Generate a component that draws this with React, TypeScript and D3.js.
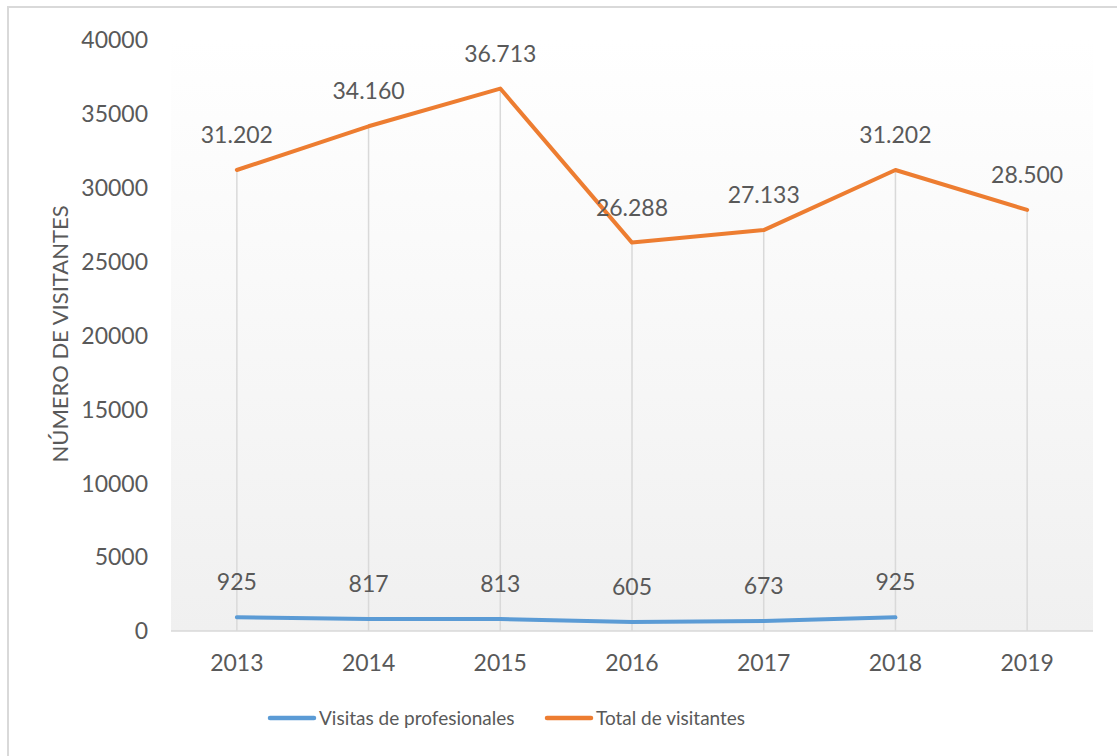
import React from "react";
import * as d3 from "d3";

// años y series
const years = ["2013", "2014", "2015", "2016", "2017", "2018", "2019"];
const totalVisitantes = [31202, 34160, 36713, 26288, 27133, 31202, 28500];
const visitasProfesionales = [925, 817, 813, 605, 673, 925];
const yTicks = [0, 5000, 10000, 15000, 20000, 25000, 30000, 35000, 40000];

const seriesNames = ["Visitas de profesionales", "Total de visitantes"];
const colors = ["#5B9BD5", "#ED7D31"];

const W = 1117;
const H = 756;
const left = 171, right = 1093, top = 40, bottom = 631;
const font = "Lato, 'Open Sans', sans-serif";
const textColor = "#595959";

export default function App() {
  const xScale = d3.scalePoint<string>().domain(years).range([left, right]).padding(0.5);
  const yScale = d3.scaleLinear().domain([0, 40000]).range([bottom, top]);

  const fmt = (v: number) => d3.format(",")(v).replace(/,/g, ".");

  const line = d3
    .line<number>()
    .x((_, i) => xScale(years[i]) as number)
    .y((d) => yScale(d));

  const series = [visitasProfesionales, totalVisitantes];

  return (
    <div style={{ position: "absolute", left: 0, top: 0 }}>
      <svg width={W} height={H} style={{ display: "block" }}>
        <defs>
          <linearGradient id="plotBg" x1="0" y1="0" x2="0" y2="1">
            <stop offset="0" stopColor="#ffffff" />
            <stop offset="1" stopColor="#f0f0f0" />
          </linearGradient>
        </defs>
        <rect x={0} y={0} width={W} height={H} fill="#fff" />
        {/* borde del gráfico */}
        <rect x={8} y={7} width={W + 10} height={H + 10} fill="none" stroke="#d9d9d9" strokeWidth={2} />

        {/* área de trazado */}
        <rect x={left} y={top} width={right - left} height={bottom - top} fill="url(#plotBg)" />

        {/* líneas de proyección */}
        {years.map((y, i) => (
          <line
            key={`drop-${y}`}
            x1={xScale(y)}
            x2={xScale(y)}
            y1={yScale(totalVisitantes[i])}
            y2={bottom}
            stroke="#d9d9d9"
            strokeWidth={1.5}
          />
        ))}

        {/* eje x */}
        <line x1={left} x2={right} y1={bottom} y2={bottom} stroke="#d9d9d9" strokeWidth={1.5} />

        {/* etiquetas eje y */}
        {yTicks.map((t) => (
          <text
            key={`yt-${t}`}
            x={148}
            y={yScale(t)}
            dy="0.36em"
            textAnchor="end"
            fontFamily={font}
            fontSize={23}
            fill={textColor}
          >
            {t}
          </text>
        ))}

        {/* etiquetas eje x */}
        {years.map((y) => (
          <text
            key={`xt-${y}`}
            x={xScale(y)}
            y={671}
            textAnchor="middle"
            fontFamily={font}
            fontSize={23}
            fill={textColor}
          >
            {y}
          </text>
        ))}

        {/* título eje y */}
        <text
          transform={`translate(68, 334) rotate(-90)`}
          textAnchor="middle"
          fontFamily={font}
          fontSize={22}
          fill={textColor}
        >
          NÚMERO DE VISITANTES
        </text>

        {/* líneas */}
        {series.map((s, k) => (
          <path
            key={`line-${k}`}
            d={line(s) as string}
            fill="none"
            stroke={colors[k]}
            strokeWidth={4}
            strokeLinejoin="round"
            strokeLinecap="round"
          />
        ))}

        {/* etiquetas de datos */}
        {series.map((s, k) =>
          s.map((v, i) => (
            <text
              key={`lab-${k}-${i}`}
              x={xScale(years[i])}
              y={yScale(v) - 27}
              textAnchor="middle"
              fontFamily={font}
              fontSize={23}
              fill={textColor}
            >
              {fmt(v)}
            </text>
          ))
        )}

        {/* leyenda */}
        {seriesNames.map((name, k) => {
          const lx = [270, 547][k];
          return (
            <g key={`leg-${k}`}>
              <line
                x1={lx}
                x2={lx + 44}
                y1={718}
                y2={718}
                stroke={colors[k]}
                strokeWidth={4.5}
                strokeLinecap="round"
              />
              <text x={lx + 49} y={718} dy="0.36em" fontFamily={font} fontSize={19} fill={textColor}>
                {name}
              </text>
            </g>
          );
        })}
      </svg>
    </div>
  );
}
